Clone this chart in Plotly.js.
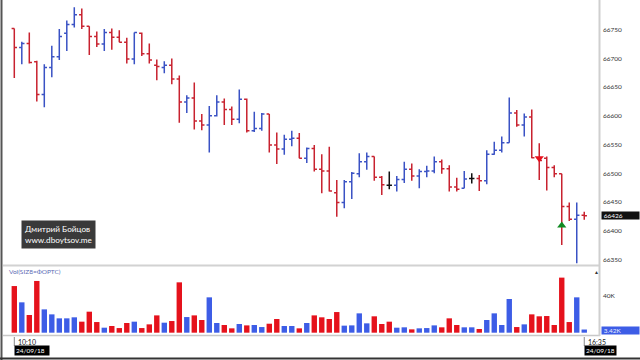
<!DOCTYPE html>
<html><head><meta charset="utf-8">
<script src="https://cdn.plot.ly/plotly-3.0.1.min.js"></script>
<style>html,body{margin:0;padding:0;background:#fff;overflow:hidden}#c{width:640px;height:360px}</style>
</head><body><div id="c"></div><script>
// 5-minute bars, SiZ8 (FORTS), 24/09/18 10:10 – 16:35
const openP  = [66752,66719,66726,66694,66637,66684,66703,66744,66759,66776,66756,66738,66725,66745,66737,66728,66699,66744,66708,66688,66684,66688,66664,66624,66631,66591,66584,66600,66624,66611,66594,66629,66574,66578,66603,66549,66542,66559,66561,66526,66543,66507,66504,66466,66449,66485,66499,66520,66529,66493,66479,66479,66489,66507,66495,66503,66504,66520,66508,66476,66474,66491,66491,66487,66533,66540,66553,66605,66584,66598,66527,66526,66510,66499,66442,66420,66427];
const highP  = [66752,66729,66745,66696,66690,66722,66751,66766,66789,66787,66756,66747,66751,66752,66749,66736,66745,66745,66726,66698,66695,66700,66670,66636,66658,66603,66617,66636,66630,66616,66646,66630,66607,66605,66603,66571,66567,66574,66570,66545,66549,66533,66546,66488,66488,66502,66535,66536,66529,66495,66503,66495,66520,66517,66507,66513,66529,66524,66514,66492,66504,66500,66497,66540,66555,66564,66632,66610,66604,66611,66552,66529,66514,66499,66449,66449,66433];
const lowP   = [66666,66690,66691,66625,66615,66667,66697,66713,66754,66751,66706,66720,66713,66715,66728,66691,66690,66704,66691,66662,66674,66655,66588,66605,66576,66575,66536,66599,66584,66584,66587,66571,66572,66574,66536,66516,66532,66547,66526,66518,66503,66465,66468,66424,66439,66455,66493,66506,66487,66462,66472,66468,66483,66487,66474,66493,66500,66499,66468,66468,66474,66482,66469,66481,66532,66536,66553,66581,66564,66526,66488,66470,66493,66375,66417,66343,66419];
const closeP = [66719,66726,66693,66637,66684,66703,66738,66759,66776,66756,66738,66725,66745,66737,66728,66699,66745,66708,66697,66686,66688,66664,66624,66631,66591,66584,66600,66624,66611,66594,66629,66574,66578,66603,66549,66542,66559,66561,66526,66543,66507,66504,66469,66449,66485,66500,66520,66529,66493,66480,66479,66489,66507,66495,66503,66504,66520,66508,66476,66472,66490,66491,66487,66533,66540,66553,66605,66584,66598,66527,66522,66510,66499,66442,66420,66427,66426];
// volume, thousands of contracts
const volumeK = [50.4,32.8,19.1,55.9,25.2,19.8,15.5,15.5,16.6,11.9,22.7,11.5,5.4,7.2,5.0,10.5,11.9,5.0,9.0,18.7,10.8,12.6,54.4,16.9,18.7,13.7,38.2,10.5,8.3,4.7,9.4,7.9,8.3,6.1,9.7,14.8,7.2,7.2,4.7,10.5,18.7,16.6,14.8,22.3,7.6,7.9,20.9,10.1,17.7,9.4,11.9,5.4,5.8,3.6,4.7,5.0,7.9,5.8,15.5,8.3,5.8,5.8,4.0,13.7,20.9,8.3,36.4,6.1,9.0,19.8,17.7,18.0,8.3,59.5,11.5,38.2,3.42];
const timeLabels = ['10:10','16:35'];
const dateLabel = '24/09/18';
const priceTicks = [66350,66400,66450,66500,66550,66600,66650,66700,66750];
const signalBar = [70,73];
const signalPrice = [66526,66409];
const signalType = ['sell','buy'];
const author = ['Дмитрий Бойцов','www.dboytsov.me'];
const volTitle = 'Vol(SIZ8=ФОРТС)';

const W=640,H=360;
const px = v=>v/W, py = v=>1-v/H;
const n = closeP.length;
const idx = [...Array(n).keys()];
const RED='#c8222f', BLUE='#3a52c4', VRED='#e5121c', VBLUE='#3d5de6';

function subset(pred){
  const s={x:[],o:[],h:[],l:[],c:[]};
  idx.forEach(i=>{ if(pred(i)){ s.x.push(i); s.o.push(openP[i]); s.h.push(highP[i]); s.l.push(lowP[i]); s.c.push(closeP[i]); }});
  return s;
}
function ohlcTrace(s,color){
  return {type:'ohlc', x:s.x, open:s.o, high:s.h, low:s.l, close:s.c, xaxis:'x', yaxis:'y', tickwidth:0.36,
    increasing:{line:{color:color,width:1.5}}, decreasing:{line:{color:color,width:1.5}}, hoverinfo:'skip', showlegend:false};
}
const up = subset(i=>closeP[i]>openP[i]);
const dn = subset(i=>closeP[i]<openP[i]);
const fl = subset(i=>closeP[i]===openP[i]);

const volColors = idx.map(i=>{
  if(i===n-1) return VBLUE;
  if(closeP[i]>openP[i]) return VBLUE;
  if(closeP[i]<openP[i]) return VRED;
  return (i>0 && closeP[i]<closeP[i-1]) ? VRED : VBLUE;
});

const traces = [
  ohlcTrace(up,BLUE), ohlcTrace(dn,RED), ohlcTrace(fl,'#111'),
  {type:'bar', x:idx, y:volumeK, xaxis:'x2', yaxis:'y2', width:0.72, marker:{color:volColors,line:{width:0}}, hoverinfo:'skip', showlegend:false},
  {type:'scatter', mode:'markers', x:signalBar, y:signalPrice, xaxis:'x', yaxis:'y',
   marker:{symbol:signalType.map(t=>t==='sell'?'triangle-down':'triangle-up'), color:signalType.map(t=>t==='sell'?'#e8101c':'#118a22'), size:8, line:{width:0}}, hoverinfo:'skip', showlegend:false}
];

const xr = [-0.84, 77.7];
const font = "Lato, 'Open Sans', sans-serif";
const layout = {
  width:W, height:H, margin:{l:0,r:0,t:0,b:0}, paper_bgcolor:'#fff', plot_bgcolor:'#fff', showlegend:false,
  font:{family:font, size:7, color:'#333'},
  xaxis:{domain:[px(8),px(597)], range:xr, showticklabels:false, showgrid:false, zeroline:false, showline:false, ticks:'', rangeslider:{visible:false}, fixedrange:true},
  xaxis2:{domain:[px(8),px(597)], range:xr, anchor:'y2', showticklabels:false, showgrid:false, zeroline:false, showline:false, ticks:'', fixedrange:true},
  yaxis:{domain:[py(264),1], range:[66341.9,66801.7], side:'right', tickvals:priceTicks, ticktext:priceTicks.map(String), showgrid:false, zeroline:false, showline:false, ticks:'', ticklabelstandoff:5, tickfont:{size:6.5,color:'#333',family:font}, fixedrange:true},
  yaxis2:{domain:[py(335),py(268)], range:[-2.5,69.9], anchor:'x2', side:'right', tickvals:[40], ticktext:['40K'], showgrid:false, zeroline:false, showline:false, ticks:'', ticklabelstandoff:5, tickfont:{size:6.5,color:'#333',family:font}, fixedrange:true},
  shapes:[
    {type:'line', xref:'paper', yref:'paper', x0:px(3), x1:px(600), y0:py(265.5), y1:py(265.5), line:{color:'#d2d2d2', width:2}},
    {type:'line', xref:'paper', yref:'paper', x0:px(3), x1:px(600), y0:py(335.5), y1:py(335.5), line:{color:'#c8c8c8', width:1.5}},
    {type:'line', xref:'paper', yref:'paper', x0:px(599.5), x1:px(599.5), y0:py(0), y1:py(336), line:{color:'#cfcfcf', width:2}},
    {type:'line', xref:'paper', yref:'paper', x0:px(1.5), x1:px(1.5), y0:0, y1:1, line:{color:'#555', width:2}},
    {type:'line', xref:'paper', yref:'paper', x0:0, x1:1, y0:py(358.5), y1:py(358.5), line:{color:'#333', width:2}},
    {type:'line', xref:'x', yref:'paper', x0:0, x1:0, y0:py(337), y1:py(346), line:{color:'#888', width:1}},
    {type:'line', xref:'x', yref:'paper', x0:n-1, x1:n-1, y0:py(337), y1:py(346), line:{color:'#888', width:1}}
  ],
  annotations:[
    {xref:'x', yref:'paper', x:0, y:py(341.5), xanchor:'left', yanchor:'middle', xshift:2, text:timeLabels[0], showarrow:false, font:{size:7,color:'#222',family:font}},
    {xref:'x', yref:'paper', x:n-1, y:py(341.5), xanchor:'left', yanchor:'middle', xshift:2, text:timeLabels[1], showarrow:false, font:{size:7,color:'#222',family:font}},
    {xref:'x', yref:'paper', x:0, y:py(350.7), xanchor:'left', yanchor:'middle', text:dateLabel+'&nbsp;&nbsp;', showarrow:false, bgcolor:'#000', borderpad:1, font:{size:6.5,color:'#fff',family:font}},
    {xref:'x', yref:'paper', x:n-1, y:py(350.7), xanchor:'left', yanchor:'middle', text:dateLabel, showarrow:false, bgcolor:'#000', borderpad:1, font:{size:6.5,color:'#fff',family:font}},
    {xref:'paper', yref:'paper', x:px(601), y:py(215.8), xanchor:'left', yanchor:'middle', text:'&nbsp;'+String(closeP[n-1]), width:37, align:'left', showarrow:false, bgcolor:'#111', borderpad:0, font:{size:6.5,color:'#fff',family:font}},
    {xref:'paper', yref:'paper', x:px(601), y:py(330.5), xanchor:'left', yanchor:'middle', text:'&nbsp;'+volumeK[n-1].toFixed(2)+'K', width:37, align:'left', showarrow:false, bgcolor:VBLUE, borderpad:0, font:{size:6.5,color:'#e8ecff',family:font}},
    {xref:'paper', yref:'paper', x:px(7), y:py(271), xanchor:'left', yanchor:'middle', text:volTitle, showarrow:false, font:{size:6.5,color:'#5a6ab4',family:font}},
    {xref:'paper', yref:'paper', x:px(596), y:py(271.5), xanchor:'center', yanchor:'middle', text:'▲', showarrow:false, font:{size:5,color:'#333',family:font}},
    {xref:'paper', yref:'paper', x:px(20.7), y:py(220), xanchor:'left', yanchor:'top', text:author.join('<br>'), align:'left', showarrow:false, bgcolor:'#3a3a3a', borderpad:3, font:{size:8.2,color:'#fff',family:font}}
  ]
};
Plotly.newPlot('c', traces, layout, {staticPlot:true, displayModeBar:false});
</script></body></html>
